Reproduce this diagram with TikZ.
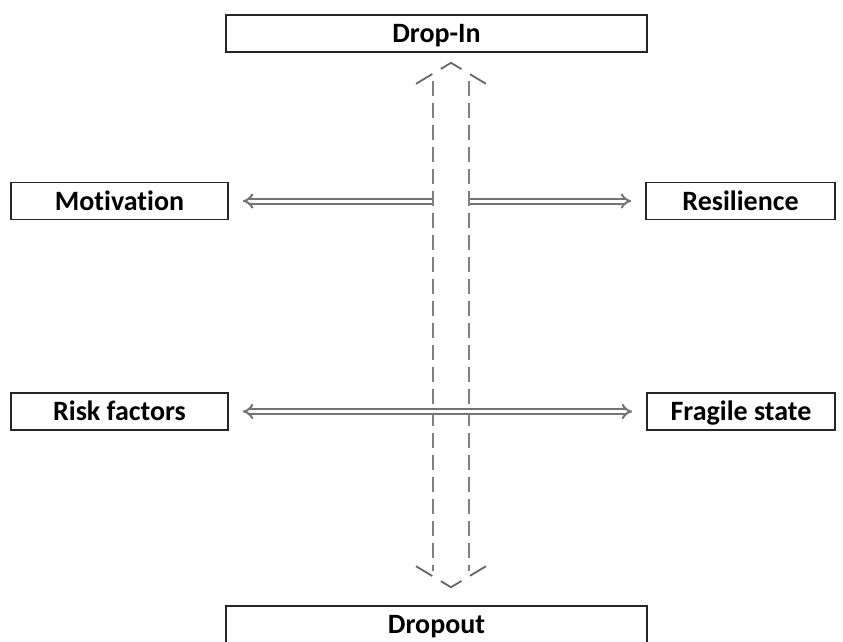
\documentclass[tikz,border=0pt]{standalone}
\usepackage{fontspec}
\setmainfont[Ligatures=NoCommon]{Carlito}
\usetikzlibrary{arrows.meta,positioning}

\begin{document}
\begin{tikzpicture}[
  x=1pt, y=-1pt,
  box/.style={draw=black!85, line width=1.6pt, minimum height=37pt, inner sep=0pt,
              text height=23pt, text depth=5pt,
              font=\fontsize{28}{32}\selectfont\bfseries},
  link/.style={{Implies}-{Implies}, double=white, double distance=3pt, line width=2pt,
               draw=black!55, shorten <=14pt, shorten >=14pt},
  flow/.style={double=white, double distance=34pt, line width=1.8pt, draw=black!50,
               dash pattern=on 15pt off 7pt},
  flowtip/.style={draw=black!60, line width=1.8pt, line join=miter,
                  dash pattern=on 19pt off 10pt on 24pt off 10pt}
]
\useasboundingbox (0,0) rectangle (843,641);
\node[box, minimum width=421pt] (dropin) at (436.5,33.5) {Drop-In};
\node[box, minimum width=421pt] (dropout) at (436.5,624.5) {Dropout};
\node[box, minimum width=217pt] (motiv) at (119.5,201) {Motivation};
\node[box, minimum width=189pt] (resil) at (740.5,201) {Resilience};
\node[box, minimum width=217pt] (risk) at (119.5,411.5) {Risk factors};
\node[box, minimum width=188pt] (fragile) at (741,411.5) {Fragile state};

\draw[link] (motiv) -- (resil);
% the wide arrow hides the upper link where they cross
\draw[flow, draw=white, solid] ([xshift=14.5pt, yshift=-28pt]dropin.south)
  -- ([xshift=14.5pt, yshift=34pt]dropout.north);
\draw[flow] ([xshift=14.5pt, yshift=-28pt]dropin.south)
  -- ([xshift=14.5pt, yshift=34pt]dropout.north);
\draw[flowtip] ([xshift=-20.5pt, yshift=-31pt]dropin.south)
  -- ([xshift=14.5pt, yshift=-10pt]dropin.south)
  -- ([xshift=49.5pt, yshift=-31pt]dropin.south);
\draw[flowtip] ([xshift=-20.5pt, yshift=39pt]dropout.north)
  -- ([xshift=14.5pt, yshift=18pt]dropout.north)
  -- ([xshift=49.5pt, yshift=39pt]dropout.north);
\draw[link] (risk) -- (fragile);
\end{tikzpicture}
\end{document}
